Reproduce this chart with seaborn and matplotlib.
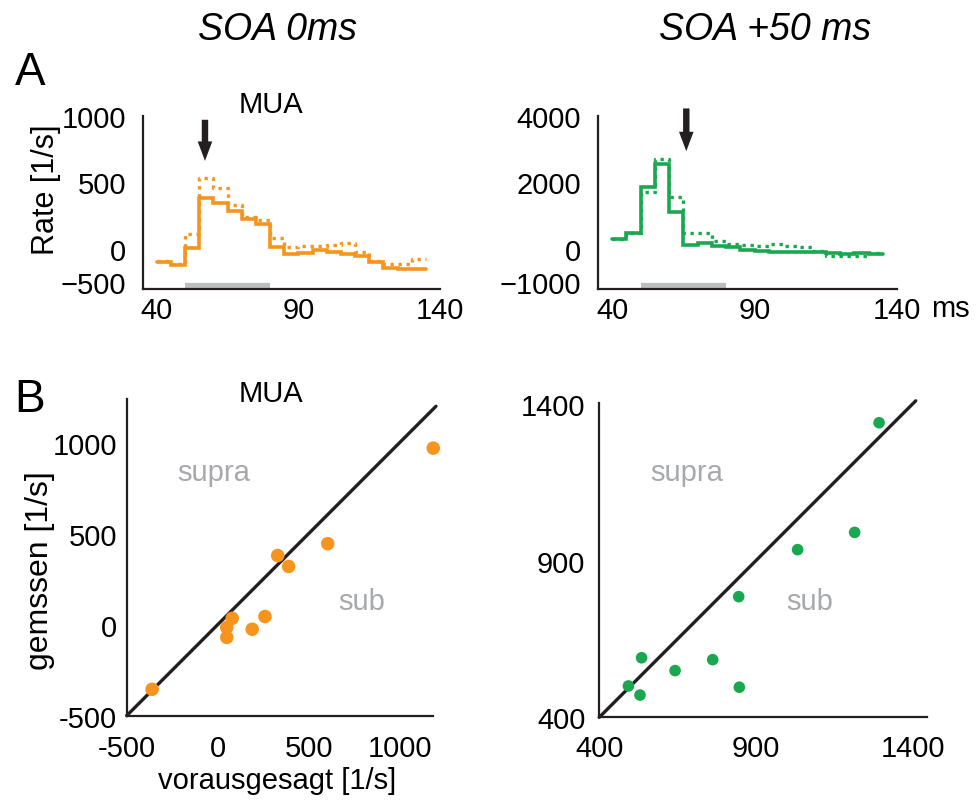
import matplotlib
matplotlib.use("Agg")
import matplotlib.pyplot as plt
import seaborn as sns
import pandas as pd

sns.set_style("white")
plt.rcParams["font.family"] = ["Liberation Sans", "DejaVu Sans"]
plt.rcParams["text.color"] = "black"
plt.rcParams["axes.labelcolor"] = "black"
plt.rcParams["xtick.color"] = "black"
plt.rcParams["ytick.color"] = "black"

# ---------------- data ----------------
bin_edges = [40, 45, 50, 55, 60, 65, 70, 75, 80, 85, 90, 95, 100, 105, 110, 115, 120, 125, 130, 135]
soa0_measured = [-95, -118, 5, 380, 342, 283, 227, 190, 18, -35, -30, -5, -20, -40, -50, -100, -140, -150, -150]
soa0_predicted = [-90, -115, 110, 530, 460, 330, 240, 215, 80, 15, 20, 25, 30, 45, -25, -90, -115, -115, -75]
soa50_measured = [300, 470, 1850, 2550, 1100, 130, 170, 100, 50, -20, -50, -80, -80, -80, -80, -120, -150, -130, -150]
soa50_predicted = [300, 470, 1720, 2700, 1550, 470, 470, 250, 150, 120, 100, 150, 100, 50, -50, -200, -200, -200, -120]
stim_interval = [50, 80]
arrow_time = [57, 66]

b0_pred = [1185, 605, 330, 390, 260, 190, 80, 50, 50, -360]
b0_meas = [970, 445, 380, 320, 45, -25, 35, -15, -70, -355]
b50_pred = [1293, 1215, 1033, 845, 535, 493, 530, 642, 762, 847]
b50_meas = [1340, 990, 935, 785, 590, 500, 471, 549, 584, 496]

ORANGE = "#F7941E"
GREEN = "#19A84F"
GRAY_TXT = "#A7A9AC"
GRAY_BAR = "#BCBEC0"
DARK = "#231F20"

fig = plt.figure(figsize=(9.76, 8.04), dpi=100)

axA1 = fig.add_axes([0.1462, 0.6393, 0.3046, 0.2156])
axA2 = fig.add_axes([0.6127, 0.6393, 0.3064, 0.2156])
axB1 = fig.add_axes([0.1298, 0.1086, 0.3141, 0.3939])
axB2 = fig.add_axes([0.614, 0.1066, 0.3355, 0.3909])

TICK_FS = 21


def step_df(vals):
    return pd.DataFrame({"t": bin_edges, "r": list(vals) + [vals[-1]]})


def style_axes(ax, ticks_in=True):
    sns.despine(ax=ax)
    for s in ["left", "bottom"]:
        ax.spines[s].set_linewidth(1.6)
        ax.spines[s].set_color(DARK)
    if ticks_in:
        ax.tick_params(direction="in", length=5, width=1.5, colors=DARK,
                       labelsize=TICK_FS, labelcolor="black")
    else:
        ax.tick_params(length=0, labelsize=TICK_FS, labelcolor="black")


# ---------------- panel A ----------------
for ax, meas, pred, col, ylim, yt, ytl, atime, arr in [
    (axA1, soa0_measured, soa0_predicted, ORANGE, (-300, 1000),
     [-250, 0, 500, 1000], ["\u2212500", "0", "500", "1000"], arrow_time[0], (990, 640)),
    (axA2, soa50_measured, soa50_predicted, GREEN, (-1200, 4000),
     [-1000, 0, 2000, 4000], ["\u22121000", "0", "2000", "4000"], arrow_time[1], (4300, 2850)),
]:
    sns.lineplot(data=step_df(pred), x="t", y="r", ax=ax, color=col, lw=2.4,
                 drawstyle="steps-post", linestyle=(0, (1, 1.4)))
    sns.lineplot(data=step_df(meas), x="t", y="r", ax=ax, color=col, lw=2.6,
                 drawstyle="steps-post", solid_joinstyle="miter")
    ax.plot(stim_interval, [0.02, 0.02], color=GRAY_BAR, lw=4.5,
            solid_capstyle="butt", transform=ax.get_xaxis_transform(), clip_on=False)
    ax.annotate("", xy=(atime, arr[1]), xytext=(atime, arr[0]),
                arrowprops=dict(arrowstyle="simple,head_width=0.75,head_length=1.0,tail_width=0.33",
                                mutation_scale=14, color=DARK, lw=0),
                annotation_clip=False)
    ax.set_xlim(35, 140)
    ax.set_ylim(*ylim)
    ax.set_xticks([40, 90, 140])
    ax.set_yticks(yt)
    ax.set_yticklabels(ytl)
    ax.set_xlabel("")
    ax.set_ylabel("")
    style_axes(ax, True)
    ax.tick_params(axis="y", pad=12)
    ax.tick_params(axis="x", pad=5)

axA1.set_ylabel("Rate [1/s]", fontsize=22)
axA1.yaxis.set_label_coords(-0.275, 0.58)
axA1.text(0.43, 1.07, "MUA", transform=axA1.transAxes, fontsize=21, ha="center", va="center")
fig.text(950 / 976, 1 - 309 / 804, "ms", fontsize=TICK_FS, ha="center", va="center")

# ---------------- panel B ----------------
dfB0 = pd.DataFrame({"pred": b0_pred, "meas": b0_meas})
dfB50 = pd.DataFrame({"pred": b50_pred, "meas": b50_meas})

axB1.plot([-500, 1200], [-500, 1200], color=DARK, lw=2.4, clip_on=False, zorder=2)
sns.scatterplot(data=dfB0, x="pred", y="meas", ax=axB1, color=ORANGE, s=95,
                edgecolor="none", zorder=3, clip_on=False)
axB1.set_xlim(-500, 1185)
axB1.set_ylim(-500, 1240)
axB1.set_xticks([-500, 0, 500, 1000])
axB1.set_xticklabels(["-500", "0", "500", "1000"])
axB1.set_yticks([-500, 0, 500, 1000])
axB1.set_yticklabels(["-500", "0", "500", "1000"])
style_axes(axB1, False)
axB1.tick_params(axis="y", pad=7)
axB1.tick_params(axis="x", pad=13)
axB1.set_xlabel("vorausgesagt [1/s]", fontsize=21)
axB1.xaxis.set_label_coords(0.49, -0.16)
axB1.set_ylabel("gemssen [1/s]", fontsize=23)
axB1.yaxis.set_label_coords(-0.235, 0.46)
axB1.text(-20, 840, "supra", color=GRAY_TXT, fontsize=21, ha="center", va="center")
axB1.text(790, 130, "sub", color=GRAY_TXT, fontsize=21, ha="center", va="center")
axB1.text(0.47, 1.02, "MUA", transform=axB1.transAxes, fontsize=21, ha="center", va="center")

axB2.plot([400, 1410], [400, 1410], color=DARK, lw=2.4, clip_on=False, zorder=2)
sns.scatterplot(data=dfB50, x="pred", y="meas", ax=axB2, color=GREEN, s=70,
                edgecolor="none", zorder=3, clip_on=False)
axB2.set_xlim(400, 1445)
axB2.set_ylim(400, 1403)
axB2.set_xticks([400, 900, 1400])
axB2.set_yticks([400, 900, 1400])
axB2.set_xticklabels(["400", "900", "1400"])
axB2.set_yticklabels(["400", "900", "1400"])
style_axes(axB2, False)
axB2.tick_params(axis="y", pad=10)
axB2.tick_params(axis="x", pad=12)
axB2.set_xlabel("")
axB2.set_ylabel("")
axB2.text(680, 1182, "supra", color=GRAY_TXT, fontsize=21, ha="center", va="center")
axB2.text(1072, 772, "sub", color=GRAY_TXT, fontsize=21, ha="center", va="center")

# ---------------- titles and panel letters ----------------
fig.text(277 / 976, 1 - 30 / 804, "SOA 0ms", fontsize=27, style="italic", ha="center", va="center")
fig.text(765 / 976, 1 - 30 / 804, "SOA +50 ms", fontsize=27, style="italic", ha="center", va="center")
fig.text(30 / 976, 1 - 73 / 804, "A", fontsize=33, ha="center", va="center")
fig.text(30 / 976, 1 - 400 / 804, "B", fontsize=33, ha="center", va="center")

fig.savefig("out.png", dpi=100)
